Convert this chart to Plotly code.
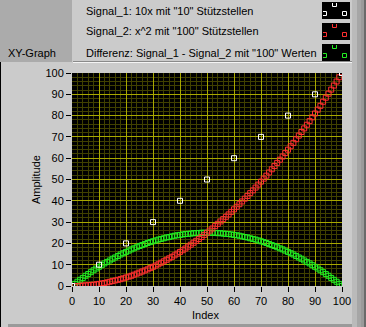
import plotly.graph_objects as go

# ---------------- data ----------------
sig1_x = [0, 10, 20, 30, 40, 50, 60, 70, 80, 90, 100]
sig1_y = [0, 10, 20, 30, 40, 50, 60, 70, 80, 90, 100]

idx = list(range(0, 101))
sig2_y = [0.0, 0.0, 0.0, 0.1, 0.2, 0.3, 0.4, 0.5, 0.6, 0.8, 1.0,
          1.2, 1.4, 1.7, 2.0, 2.3, 2.6, 2.9, 3.2, 3.6, 4.0,
          4.4, 4.8, 5.3, 5.8, 6.3, 6.8, 7.3, 7.8, 8.4, 9.0,
          9.6, 10.2, 10.9, 11.6, 12.3, 13.0, 13.7, 14.4, 15.2, 16.0,
          16.8, 17.6, 18.5, 19.4, 20.3, 21.2, 22.1, 23.0, 24.0, 25.0,
          26.0, 27.0, 28.1, 29.2, 30.3, 31.4, 32.5, 33.6, 34.8, 36.0,
          37.2, 38.4, 39.7, 41.0, 42.3, 43.6, 44.9, 46.2, 47.6, 49.0,
          50.4, 51.8, 53.3, 54.8, 56.3, 57.8, 59.3, 60.8, 62.4, 64.0,
          65.6, 67.2, 68.9, 70.6, 72.3, 74.0, 75.7, 77.4, 79.2, 81.0,
          82.8, 84.6, 86.5, 88.4, 90.3, 92.2, 94.1, 96.0, 98.0, 100.0]
diff_y = [0.0, 1.0, 2.0, 2.9, 3.8, 4.8, 5.6, 6.5, 7.4, 8.2, 9.0,
          9.8, 10.6, 11.3, 12.0, 12.8, 13.4, 14.1, 14.8, 15.4, 16.0,
          16.6, 17.2, 17.7, 18.2, 18.8, 19.2, 19.7, 20.2, 20.6, 21.0,
          21.4, 21.8, 22.1, 22.4, 22.8, 23.0, 23.3, 23.6, 23.8, 24.0,
          24.2, 24.4, 24.5, 24.6, 24.8, 24.8, 24.9, 25.0, 25.0, 25.0,
          25.0, 25.0, 24.9, 24.8, 24.8, 24.6, 24.5, 24.4, 24.2, 24.0,
          23.8, 23.6, 23.3, 23.0, 22.8, 22.4, 22.1, 21.8, 21.4, 21.0,
          20.6, 20.2, 19.7, 19.2, 18.8, 18.2, 17.7, 17.2, 16.6, 16.0,
          15.4, 14.8, 14.1, 13.4, 12.8, 12.0, 11.3, 10.6, 9.8, 9.0,
          8.2, 7.4, 6.5, 5.6, 4.8, 3.8, 2.9, 2.0, 1.0, 0.0]

ticks = [0, 10, 20, 30, 40, 50, 60, 70, 80, 90, 100]
legend_names = ['Signal_1: 10x mit "10" Stützstellen',
                'Signal_2: x^2 mit "100" Stützstellen',
                'Differenz: Signal_1 - Signal_2 mit "100" Werten']
legend_colors = ["#ffffff", "#ff3030", "#22ee22"]

# ---------------- geometry ----------------
W, H = 366, 327
L, R, T, B = 72, 342, 73, 286
FONT = "Liberation Sans"


def px(x):
    return (x - L) / (R - L)


def py(y):
    return (B - y) / (B - T)


fig = go.Figure()
fig.add_trace(go.Scatter(x=idx, y=diff_y, mode="markers",
                         marker=dict(symbol="square-open", size=5, color=legend_colors[2],
                                     line=dict(width=1, color=legend_colors[2]))))
fig.add_trace(go.Scatter(x=idx, y=sig2_y, mode="markers",
                         marker=dict(symbol="square-open", size=5, color=legend_colors[1],
                                     line=dict(width=1, color=legend_colors[1]))))
fig.add_trace(go.Scatter(x=sig1_x, y=sig1_y, mode="markers",
                         marker=dict(symbol="square-open", size=5, color=legend_colors[0],
                                     line=dict(width=1, color=legend_colors[0]))))

shapes = []
# XY-Graph label box
shapes.append(dict(type="rect", xref="paper", yref="paper", x0=px(0), x1=px(72), y0=py(62), y1=py(0),
                   fillcolor="#ababab", line=dict(width=0), layer="below"))
# legend bottom edge
shapes.append(dict(type="line", xref="paper", yref="paper", x0=px(73), x1=px(352), y0=py(61.5), y1=py(61.5),
                   line=dict(color="#8a8a8a", width=1), layer="below"))
shapes.append(dict(type="line", xref="paper", yref="paper", x0=px(73), x1=px(352), y0=py(62.5), y1=py(62.5),
                   line=dict(color="#f4f4f4", width=1), layer="below"))
# right bands
for x0, x1, c in [(352, 357, "#bababa"), (357, 361, "#a6a6a6"), (361, 364, "#9a9a9a"), (364, 366, "#6a6a6a")]:
    shapes.append(dict(type="rect", xref="paper", yref="paper", x0=px(x0), x1=px(x1), y0=py(327), y1=py(0),
                       fillcolor=c, line=dict(width=0), layer="below"))
# left and bottom edges
shapes.append(dict(type="rect", xref="paper", yref="paper", x0=px(0), x1=px(1), y0=py(327), y1=py(62),
                   fillcolor="#000000", line=dict(width=0), layer="below"))
shapes.append(dict(type="rect", xref="paper", yref="paper", x0=px(8), x1=px(352), y0=py(327), y1=py(324),
                   fillcolor="#9a9a9a", line=dict(width=0), layer="below"))

# legend swatches
for i, c in enumerate(legend_colors):
    oy = 21 * i
    shapes.append(dict(type="rect", xref="paper", yref="paper", x0=px(322), x1=px(350),
                       y0=py(19 + oy), y1=py(2 + oy), fillcolor="#000000", line=dict(width=0)))
    shapes.append(dict(type="path", xref="paper", yref="paper",
                       path=f"M {px(332.5)} {py(3 + oy)} L {px(332.5)} {py(6.5 + oy)} L {px(336.5)} {py(6.5 + oy)} L {px(336.5)} {py(3 + oy)}",
                       line=dict(color=c, width=1)))
    shapes.append(dict(type="path", xref="paper", yref="paper",
                       path=f"M {px(323)} {py(11.5 + oy)} L {px(326.5)} {py(11.5 + oy)} L {px(326.5)} {py(15.5 + oy)} L {px(323)} {py(15.5 + oy)}",
                       line=dict(color=c, width=1)))
    shapes.append(dict(type="rect", xref="paper", yref="paper", x0=px(342.5), x1=px(346.5),
                       y0=py(15.5 + oy), y1=py(11.5 + oy), line=dict(color=c, width=1)))

annotations = []
for i, name in enumerate(legend_names):
    annotations.append(dict(xref="paper", yref="paper", x=px(84), y=py(10.5 + 21 * i), text=name,
                            showarrow=False, xanchor="left", yanchor="middle",
                            font=dict(family=FONT, size=11, color="#000000")))
annotations.append(dict(xref="paper", yref="paper", x=px(6), y=py(53.5), text="XY-Graph",
                        showarrow=False, xanchor="left", yanchor="middle",
                        font=dict(family=FONT, size=11, color="#000000")))
annotations.append(dict(xref="paper", yref="paper", x=px(36), y=py(180), text="Amplitude",
                        showarrow=False, textangle=-90, xanchor="center", yanchor="middle",
                        font=dict(family=FONT, size=11, color="#000000")))
annotations.append(dict(xref="paper", yref="paper", x=px(205.5), y=py(315), text="Index",
                        showarrow=False, xanchor="center", yanchor="middle",
                        font=dict(family=FONT, size=11, color="#000000")))

axis_common = dict(range=[0, 100], tickvals=ticks, ticks="outside", ticklen=5, tickcolor="#000000",
                   tickwidth=1, showline=False, zeroline=False, showgrid=True,
                   gridcolor="#a8a800", gridwidth=1,
                   minor=dict(dtick=2, tick0=0, showgrid=True, gridcolor="#404000", gridwidth=1),
                   tickfont=dict(family=FONT, size=11, color="#000000"), fixedrange=True)

fig.update_layout(
    width=W, height=H,
    margin=dict(l=L, r=W - R, t=T, b=H - B, pad=0),
    paper_bgcolor="#cbcbcb", plot_bgcolor="#000000",
    showlegend=False,
    xaxis=dict(**axis_common),
    yaxis=dict(**axis_common),
    shapes=shapes, annotations=annotations,
)

fig.write_html("out.html", config=dict(displayModeBar=False))
